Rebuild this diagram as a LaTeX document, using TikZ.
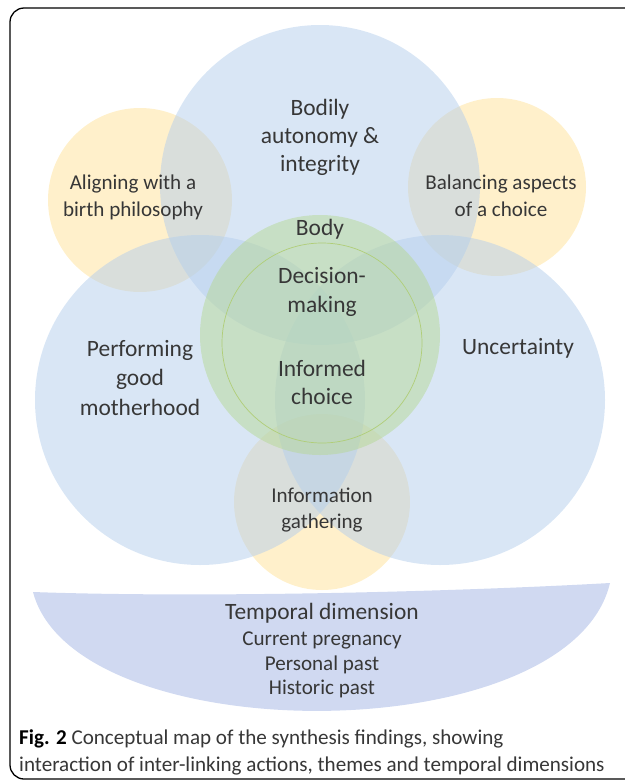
\documentclass[tikz,border=0pt]{standalone}
\usepackage{fontspec}
\setmainfont{Carlito}
\usepackage{tikz}
\definecolor{themeblue}{RGB}{180,206,236}
\definecolor{actionyellow}{RGB}{255,222,140}
\definecolor{coregreen}{RGB}{182,216,150}
\definecolor{ringgreen}{RGB}{176,206,120}
\definecolor{timeblue}{RGB}{208,217,241}
\definecolor{txtgray}{RGB}{55,55,55}

\begin{document}
\begin{tikzpicture}[x=0.03cm,y=-0.03cm,
	theme/.style={fill=themeblue,fill opacity=0.5},
	action/.style={fill=actionyellow,fill opacity=0.45},
	core/.style={fill=coregreen,fill opacity=0.5},
	lbl/.style={align=center,text=txtgray,font=\fontsize{20}{24}\selectfont},
	small lbl/.style={lbl,font=\fontsize{18}{23}\selectfont}]
	\useasboundingbox (0,0) rectangle (625,782);
	\clip (0,0) rectangle (625,782);
	% yellow actions
	\fill[action] (140,200) circle (92);
	\fill[action] (497,187) circle (89);
	\fill[action] (322,502) circle (88);
	% blue themes
	\fill[theme] (320,185) circle (160);
	\fill[theme] (200,400) circle (165);
	\fill[theme] (440,400) circle (165);
	% green centre
	\fill[core] (320,335) circle (120);
	\draw[ringgreen,line width=0.6pt] (322,343) circle (100);
	% temporal band
	\fill[timeblue] (33,592) .. controls (200,598) and (450,592) .. (610,583)
		.. controls (570,752) and (75,752) .. (33,592) -- cycle;
	\node[lbl] (bodily) at (320,137) {Bodily\\autonomy \&\\integrity};
	\node[small lbl] (aligning) at (133,197) {Aligning with a\\birth philosophy};
	\node[small lbl] (balancing) at (501,196) {Balancing aspects\\of a choice};
	\node[lbl,font=\fontsize{20}{25}\selectfont] (motherhood) at (140,378) {Performing\\good\\motherhood};
	\node[lbl] (uncertainty) at (518,348) {Uncertainty};
	\node[lbl] (body) at (320,229) {Body};
	\node[lbl] (decision) at (322,292) {Decision-\\making};
	\node[lbl] (informed) at (322,382) {Informed\\choice};
	\node[small lbl] (gathering) at (322,510) {Information\\gathering};
	\node[lbl] (temporal) at (322,613) {Temporal dimension};
	\node[small lbl,font=\fontsize{18}{21}\selectfont] (periods) at (322,665) {Current pregnancy\\Personal past\\Historic past};
	\node[anchor=west,align=left,inner sep=0pt,text=txtgray,font=\fontsize{18}{23}\selectfont] (caption) at (19,752)
		{\textbf{\color{black}Fig. 2} Conceptual map of the synthesis findings, showing\\interaction of inter-linking actions, themes and temporal dimensions};
	% frame
	\draw[line width=1.1pt,rounded corners=12] (10,8) rectangle (650,779);
\end{tikzpicture}
\end{document}
